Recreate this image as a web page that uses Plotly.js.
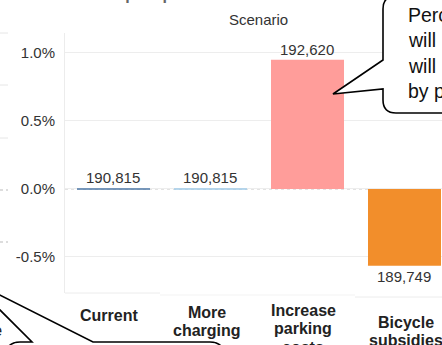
<!DOCTYPE html>
<html>
<head>
<meta charset="utf-8">
<script src="https://cdn.plot.ly/plotly-3.0.1.min.js"></script>
<style>
  html, body { margin: 0; padding: 0; background: #fff; overflow: hidden; }
  #chart { width: 442px; height: 345px; }
</style>
</head>
<body>
<div id="chart"></div>
<script>
// Scenario totals; each bar shows the % change against the current scenario
const scenarios = ['Current', 'More charging', 'Increase parking costs', 'Bicycle subsidies'];
const scenarioLabels = [['Current'], ['More', 'charging'], ['Increase', 'parking', 'costs'], ['Bicycle', 'subsidies']];
const totals = [190815, 190815, 192620, 189749];
const barColors = ['#4e79a7', '#a0cbe8', '#ff9d9a', '#f28e2b'];
const yTickVals = [-0.005, 0, 0.005, 0.01];
const yTickText = ['-0.5%', '0.0%', '0.5%', '1.0%'];
const headerText = 'Scenario';
const titleText = 'Emissions impact per scenario';
const calloutLines = ['Percentage of car trips', 'will increase if parking', 'will increase if charging', 'by parking operators'];
const sideText = 'the';

const baseline = totals[0];
const pctChange = totals.map(t => t / baseline - 1);

// page geometry
const W = 442, H = 345;
const M = { l: 65, r: 0, t: 33, b: 52 };
const PW = W - M.l - M.r, PH = H - M.t - M.b;
const px = x => (x - M.l) / PW;           // pixel x -> paper x
const py = y => (H - M.b - y) / PH;       // pixel y -> paper y
const FONT = 'Liberation Sans, Arial, Helvetica, sans-serif';
const BAR_PX = 73;                        // bar width in pixels (0.75 of a category)

function pathFrom(cmds) {
  // cmds: [['M', x, y], ['Q', cx, cy, x, y], ...] in pixels
  return cmds.map(c => {
    const pts = [];
    for (let i = 1; i < c.length; i += 2) pts.push(px(c[i]).toFixed(5) + ',' + py(c[i + 1]).toFixed(5));
    return c[0] + pts.join(' ');
  }).join(' ');
}

const traces = [
  {
    type: 'bar',
    x: scenarios,
    y: pctChange,
    width: 0.75,
    marker: { color: barColors, line: { width: 0 } },
    hoverinfo: 'skip'
  },
  {
    // value edge of each bar (visible for the zero-change scenarios);
    // line-ew draws a stroke 1.4x the marker size
    type: 'scatter',
    mode: 'markers',
    x: scenarios,
    y: pctChange,
    marker: { symbol: 'line-ew', size: BAR_PX / 1.4, line: { width: 1.4, color: barColors } },
    hoverinfo: 'skip'
  }
];

const annotations = [];

// value labels
scenarios.forEach((s, i) => {
  annotations.push({
    x: s, y: pctChange[i], xref: 'x', yref: 'y',
    text: totals[i].toLocaleString('en-US'),
    showarrow: false, yanchor: 'middle',
    yshift: pctChange[i] >= 0 ? 11 : -12,
    font: { family: FONT, size: 15, color: '#333' }
  });
});

// category labels, vertically centred per block
const firstLineY = [315, 312, 310, 322];
const labelShiftX = [-4, -3, -4, 2];
scenarioLabels.forEach((lines, i) => {
  lines.forEach((ln, j) => {
    annotations.push({
      x: scenarios[i], xref: 'x', y: 0, yref: 'paper',
      yanchor: 'middle', yshift: -(firstLineY[i] + j * 18.5 - (H - M.b)),
      xshift: labelShiftX[i],
      text: '<b>' + ln + '</b>', showarrow: false,
      font: { family: FONT, size: 16, color: '#222' }
    });
  });
});

// column header
annotations.push({
  x: px(258), y: py(20), xref: 'paper', yref: 'paper',
  text: headerText, showarrow: false, yanchor: 'middle',
  font: { family: FONT, size: 15, color: '#333' }
});

// sheet title (mostly above the page)
annotations.push({
  x: px(20), y: py(-6), xref: 'paper', yref: 'paper',
  xanchor: 'left', yanchor: 'middle',
  text: '<b>' + titleText + '</b>', showarrow: false,
  font: { family: FONT, size: 16, color: '#666' }
});

// callout text
calloutLines.forEach((ln, j) => {
  annotations.push({
    x: px(406), y: py(14.5 + j * 25.5), xref: 'paper', yref: 'paper',
    xanchor: 'left', yanchor: 'middle',
    text: ln, showarrow: false,
    font: { family: FONT, size: 19.5, color: '#111' }
  });
});

annotations.push({
  x: px(4), y: py(330), xref: 'paper', yref: 'paper',
  xanchor: 'right', yanchor: 'middle',
  text: sideText, showarrow: false,
  font: { family: FONT, size: 16, color: '#222' }
});

const shapes = [];

// dotted zero line between bars
shapes.push({ type: 'line', layer: 'between', xref: 'paper', yref: 'y', x0: 0, x1: 1, y0: 0, y1: 0,
  line: { color: '#ffffff', width: 1.5 } });
shapes.push({ type: 'line', layer: 'between', xref: 'paper', yref: 'y', x0: 0, x1: 1, y0: 0, y1: 0,
  line: { color: '#c4c4c4', width: 1, dash: 'dot' } });

// neighbouring pane edge at the far left
[[33, 'solid', '#e6e6e6'], [85, 'solid', '#e6e6e6'], [138, 'solid', '#e6e6e6'],
 [190, 'dot', '#bbbbbb'], [242, 'dot', '#bbbbbb']].forEach(([y, dash, col]) => {
  shapes.push({ type: 'line', layer: 'below', xref: 'paper', yref: 'paper',
    x0: px(0), x1: px(8), y0: py(y), y1: py(y), line: { color: col, width: 1, dash: dash } });
});

// faint pane bottoms
[[65, 160, 293, '#ececec'], [160, 355, 295, '#f3f3f3'], [355, 442, 297, '#ececec']].forEach(([a, b, y, col]) => {
  shapes.push({ type: 'line', layer: 'below', xref: 'paper', yref: 'paper',
    x0: px(a), x1: px(b), y0: py(y), y1: py(y), line: { color: col, width: 1 } });
});

// callout bubble, top right
shapes.push({
  type: 'path', layer: 'above', xref: 'paper', yref: 'paper',
  path: pathFrom([['M', 470, -4], ['L', 396, -4], ['Q', 383, -4, 383, 9], ['L', 383, 60],
                  ['L', 333, 94], ['L', 383, 89], ['L', 383, 100], ['Q', 383, 113, 396, 113],
                  ['L', 470, 113], ['Z']]),
  fillcolor: '#ffffff', line: { color: '#000', width: 1.6 }
});

// callout bubble, bottom left
shapes.push({
  type: 'path', layer: 'above', xref: 'paper', yref: 'paper',
  path: pathFrom([['M', 6, 370], ['L', 6, 356], ['Q', 6, 342, 20, 342], ['L', 32, 342],
                  ['L', -30, 280], ['L', 93, 342], ['L', 210, 342], ['Q', 224, 342, 224, 356],
                  ['L', 224, 370], ['Z']]),
  fillcolor: '#ffffff', line: { color: '#000', width: 1.6 }
});

const layout = {
  width: W, height: H,
  margin: M,
  paper_bgcolor: '#ffffff', plot_bgcolor: '#ffffff',
  showlegend: false,
  bargap: 0,
  font: { family: FONT, size: 15, color: '#333' },
  xaxis: {
    type: 'category', range: [-0.5, 3.387],
    showticklabels: false, showgrid: false, zeroline: false, showline: false, ticks: '',
    fixedrange: true
  },
  yaxis: {
    range: [-0.00765, 0.01147],
    tickvals: yTickVals, ticktext: yTickText,
    showgrid: true, gridcolor: '#ededed', gridwidth: 1,
    zeroline: false, showline: true, linecolor: '#ececec', linewidth: 1,
    ticks: '', ticklabelstandoff: 6,
    tickfont: { family: FONT, size: 15, color: '#333' },
    fixedrange: true
  },
  annotations: annotations,
  shapes: shapes
};

Plotly.newPlot('chart', traces, layout, { staticPlot: true, displayModeBar: false });
</script>
</body>
</html>
